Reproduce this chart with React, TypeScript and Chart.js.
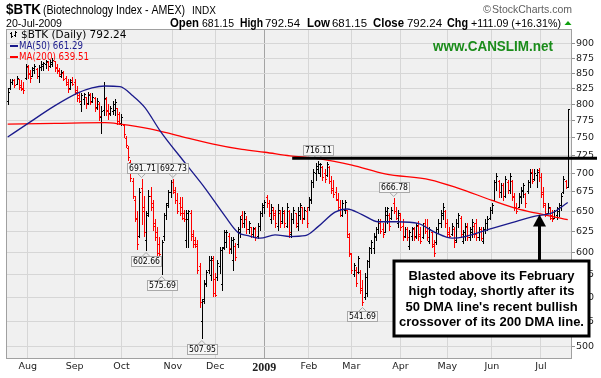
import React, { useEffect, useRef } from 'react';
import { Chart, registerables } from 'chart.js';
Chart.register(...registerables);

// ---------- DATA ----------
const monthTickIdx = [9, 30, 51, 74, 93, 115, 135, 154, 176, 197, 217, 239];
const monthTickLabels = ['Aug', 'Sep', 'Oct', 'Nov', 'Dec', '2009', 'Feb', 'Mar', 'Apr', 'May', 'Jun', 'Jul'];
const priceTicks = [500, 525, 550, 575, 600, 625, 650, 675, 700, 725, 750, 775, 800, 825, 850, 875, 900];

const opens = [
  805, 826, 835, 838, 832, 840, 830, 826, 842, 860, 850, 845, 855, 857, 845, 860, 862, 865, 868, 862,
  866, 870, 860, 855, 846, 850, 842, 836, 826, 838, 835, 822, 815, 800, 808, 812, 802, 816, 806, 810,
  796, 800, 780, 792, 808, 792, 786, 790, 792, 794, 785, 772, 768, 750, 735, 715, 690, 665, 640, 620,
  680, 655, 615, 648, 670, 660, 635, 625, 610, 590, 620, 645, 660, 675, 688, 675, 665, 660, 655, 648,
  615, 640, 648, 622, 615, 610, 585, 525, 548, 565, 580, 575, 592, 570, 572, 585, 565, 606, 612, 620,
  604, 592, 608, 610, 625, 645, 636, 640, 628, 630, 622, 628, 620, 632, 648, 655, 668, 660, 640, 652,
  648, 632, 648, 638, 648, 632, 650, 622, 640, 648, 632, 645, 655, 642, 650, 655, 665, 688, 700, 705,
  700, 708, 700, 698, 708, 690, 680, 675, 665, 655, 646, 652, 652, 618, 598, 576, 580, 578, 578, 560,
  550, 555, 590, 605, 605, 618, 628, 636, 628, 625, 645, 645, 642, 660, 650, 635, 645, 632, 620, 628,
  608, 620, 628, 620, 632, 622, 618, 635, 630, 614, 625, 608, 612, 628, 635, 645, 650, 635, 625, 622,
  628, 615, 636, 642, 614, 620, 630, 618, 625, 632, 635, 618, 628, 614, 628, 635, 642, 652, 665, 688,
  690, 675, 684, 670, 688, 678, 690, 668, 655, 656, 668, 676, 672, 676, 688, 702, 692, 698, 704, 695,
  672, 658, 648, 654, 645, 642, 645, 650, 656, 675, 690, 681.15
];
const highs = [
  826, 840, 841, 840, 845, 840, 838, 835, 866, 863, 856, 861, 866, 858, 864, 870, 868, 872, 870, 872,
  875, 870, 866, 858, 856, 853, 845, 840, 840, 843, 840, 829, 818, 818, 818, 812, 820, 818, 818, 812,
  810, 803, 798, 835, 812, 800, 798, 805, 808, 795, 788, 785, 770, 752, 738, 718, 693, 670, 650, 680,
  691.71, 670, 650, 678, 682, 665, 640, 631, 619, 615, 648, 661, 678, 691, 692.73, 682, 674, 669, 669, 652,
  652, 652, 652, 627, 619, 615, 588, 548, 569, 580, 596, 596, 596, 577, 592, 607, 607, 627, 627, 623,
  619, 618, 611, 631, 644, 650, 650, 644, 638, 631, 631, 631, 636, 650, 661, 665, 671, 665, 659, 656,
  652, 659, 652, 656, 652, 661, 652, 648, 656, 648, 656, 661, 656, 656, 656, 669, 691, 705, 714, 716.11,
  714, 710, 705, 715, 710, 696, 691, 682, 674, 665, 665, 664, 652, 623, 600, 588, 584, 596, 580, 569,
  577, 592, 607, 615, 623, 631, 640, 640, 636, 656, 656, 648, 656, 666.78, 656, 652, 648, 640, 631, 631,
  627, 631, 631, 636, 638, 631, 636, 640, 640, 631, 625, 615, 631, 640, 652, 661, 652, 640, 631, 636,
  631, 640, 648, 644, 627, 636, 636, 631, 640, 636, 640, 631, 631, 631, 640, 644, 656, 661, 691, 700,
  691, 687, 687, 696, 691, 700, 691, 674, 661, 674, 682, 687, 674, 691, 705, 705, 705, 705, 707, 700,
  682, 661, 661, 656, 652, 652, 656, 661, 674, 696, 691, 792.54
];
const lows = [
  800, 824, 832, 828, 832, 824, 822, 818, 840, 842, 836, 845, 850, 842, 835, 856, 856, 858, 856, 860,
  862, 854, 850, 845, 843, 838, 830, 819, 824, 830, 817, 806, 803, 790, 800, 795, 800, 800, 803, 790,
  793, 776, 757, 783, 783, 778, 783, 785, 783, 770, 770, 768, 751, 737, 718, 689, 667, 638, 604, 618,
  634, 620, 602.66, 644, 652, 627, 615, 596, 596, 575.69, 615, 640, 656, 669, 674, 661, 648, 645, 640, 638,
  607, 607, 615, 607, 607, 577, 540, 507.95, 544, 562, 577, 569, 551, 551, 569, 577, 558, 604, 607, 600,
  600, 580, 592, 607, 619, 631, 631, 623, 623, 619, 619, 615, 617, 627, 644, 648, 656, 644, 636, 640,
  631, 627, 631, 636, 631, 631, 619, 619, 636, 631, 627, 640, 636, 640, 631, 652, 661, 682, 691, 700,
  696, 691, 688, 696, 687, 674, 669, 664, 652, 644, 644, 648, 619, 596, 577, 573, 562, 577, 555, 541.69,
  548, 551, 584, 600, 600, 615, 623, 623, 619, 625, 636, 627, 640, 648, 640, 631, 627, 615, 619, 615,
  604, 615, 615, 617, 615, 611, 617, 623, 615, 611, 607, 596, 610, 623, 631, 640, 631, 619, 619, 621,
  607, 613, 631, 619, 611, 615, 615, 615, 619, 619, 615, 615, 615, 611, 623, 627, 640, 648, 665, 678,
  669, 669, 665, 669, 674, 674, 665, 652, 648, 656, 661, 669, 656, 674, 682, 687, 691, 682, 690, 669,
  656, 644, 648, 640, 638, 642, 640, 644, 652, 674, 680, 681.15
];
const closes = [
  820, 836, 838, 830, 842, 827, 824, 822, 862, 848, 842, 858, 862, 845, 860, 866, 867, 870, 862, 869,
  872, 858, 853, 848, 852, 840, 833, 824, 836, 832, 820, 810, 806, 814, 816, 800, 815, 804, 812, 795,
  805, 782, 790, 810, 790, 785, 795, 800, 803, 775, 772, 780, 755, 740, 722, 693, 670, 642, 610, 675,
  650, 625, 645, 670, 656, 632, 618, 600, 598, 612, 645, 658, 675, 688, 678, 665, 650, 648, 642, 640,
  648, 650, 620, 610, 608, 580, 545, 546, 566, 578, 592, 594, 555, 553, 588, 603, 605, 624, 625, 605,
  615, 616, 595, 628, 640, 635, 648, 628, 635, 622, 629, 618, 632, 648, 658, 662, 660, 648, 655, 645,
  635, 652, 636, 650, 635, 655, 625, 640, 652, 635, 650, 658, 640, 652, 635, 666, 688, 702, 710, 712,
  713, 695, 692, 712, 690, 678, 672, 666, 655, 646, 660, 662, 622, 600, 580, 586, 566, 594, 558, 545,
  572, 590, 605, 612, 620, 628, 638, 626, 622, 650, 654, 632, 652, 650, 642, 648, 630, 618, 628, 618,
  624, 629, 618, 633, 620, 614, 632, 626, 618, 628, 610, 600, 628, 636, 648, 656, 636, 622, 620, 632,
  612, 636, 645, 622, 625, 632, 618, 628, 637, 622, 618, 628, 617, 628, 636, 640, 652, 658, 688, 696,
  675, 684, 670, 692, 678, 696, 670, 656, 650, 670, 678, 684, 660, 688, 700, 690, 700, 702, 695, 675,
  660, 648, 656, 642, 640, 650, 654, 658, 670, 692, 681.15, 792.24
];

const ma50Idx = [0, 7.8, 21.2, 31.5, 37.8, 43.6, 50.3, 56.2, 61.5, 68.3, 79.5, 88.4, 97.4, 103.2, 107.7, 113.1, 119.8, 126.5, 133.3, 139.1, 146.7, 152.1, 158.8, 166, 174.9, 183.9, 191.5, 199.2, 205, 217.1, 226, 236.4, 244, 251];
const ma50Val = [751, 768, 798, 818, 826, 829, 828, 813, 795, 760, 714, 680, 644, 624, 620, 617, 621, 619, 620, 631, 649, 653, 646, 637, 637, 635, 624, 617, 619, 629, 636, 644, 648, 661.29];
const ma200Idx = [0, 21.2, 43.6, 50.3, 63.8, 76.3, 91.6, 105, 115.3, 126.5, 139.1, 154.3, 169.1, 189.3, 201.8, 217.1, 228.7, 236.4, 246.7, 251];
const ma200Val = [770, 771, 772, 770, 763, 753, 741, 733, 729, 724, 720, 711, 699, 691, 680, 664, 653, 648, 642, 639.51];

const labelIdx = [60, 62, 69, 74, 87, 139, 159, 173];
const labelKind = ['high', 'low', 'low', 'high', 'low', 'high', 'low', 'high'];

const resistanceLevel = 720.5;
const resistanceStartIdx = 127.5;
const arrowIdx = 238.2;
const arrowPrice = 646;

const noteLines = [
  'Blasted above its February',
  'high today, shortly after its',
  "50 DMA line's recent bullish",
  'crossover of its 200 DMA line.',
];

export default function App() {
  const ref = useRef<HTMLCanvasElement>(null);
  useEffect(() => {
    document.body.style.margin = '0';
    const canvas = ref.current!;

    const bgPlugin = {
      id: 'bg',
      beforeDraw(chart: any) {
        const { ctx, chartArea: a } = chart;
        ctx.save();
        ctx.fillStyle = '#ffffff';
        ctx.fillRect(0, 0, chart.width, chart.height);
        ctx.fillStyle = '#f0f0f0';
        ctx.fillRect(a.left, a.top, a.right - a.left, a.bottom - a.top);
        ctx.restore();
      },
    };

    const ohlcPlugin = {
      id: 'ohlc',
      beforeDatasetsDraw(chart: any) {
        const { ctx, chartArea: a } = chart;
        const xs = chart.scales.x, ys = chart.scales.y;
        ctx.save();
        ctx.beginPath();
        ctx.rect(a.left, a.top, a.right - a.left, a.bottom - a.top);
        ctx.clip();
        for (let i = 0; i < closes.length; i++) {
          const up = i === 0 ? true : closes[i] >= closes[i - 1];
          ctx.fillStyle = up ? '#000000' : '#ff0000';
          const x = Math.round(xs.getPixelForValue(i));
          const yh = Math.round(ys.getPixelForValue(highs[i]));
          const yl = Math.round(ys.getPixelForValue(lows[i]));
          ctx.fillRect(x, yh, 1, Math.max(1, yl - yh + 1));
          ctx.fillRect(x - 1, Math.round(ys.getPixelForValue(opens[i])), 1, 1);
          ctx.fillRect(x + 1, Math.round(ys.getPixelForValue(closes[i])), 1, 1);
        }
        ctx.restore();
      },
    };

    const overlayPlugin = {
      id: 'overlay',
      afterDraw(chart: any) {
        const { ctx, chartArea: a } = chart;
        const xs = chart.scales.x, ys = chart.scales.y;
        ctx.save();
        // plot border
        ctx.strokeStyle = '#a0a0a0';
        ctx.lineWidth = 1;
        ctx.strokeRect(a.left + 0.5, a.top + 0.5, a.right - a.left - 1, a.bottom - a.top);

        // value labels
        ctx.font = '8.5px "DejaVu Sans"';
        for (let k = 0; k < labelIdx.length; k++) {
          const i = labelIdx[k];
          const isHigh = labelKind[k] === 'high';
          const v = isHigh ? highs[i] : lows[i];
          const txt = v.toFixed(2);
          const x = xs.getPixelForValue(i);
          const yb = ys.getPixelForValue(v);
          const w = 30;
          const h = 10;
          const bx = Math.round(x - w / 2) + 0.5;
          const by = isHigh ? Math.round(yb - 6 - h) + 0.5 : Math.round(yb + 6) + 0.5;
          ctx.fillStyle = '#f6f6f6';
          ctx.fillRect(bx, by, w, h);
          ctx.strokeStyle = '#a8a8a8';
          ctx.lineWidth = 1;
          ctx.strokeRect(bx, by, w, h);
          ctx.beginPath();
          if (isHigh) {
            ctx.moveTo(x - 4, by + h);
            ctx.lineTo(x, by + h + 4);
            ctx.lineTo(x + 4, by + h);
          } else {
            ctx.moveTo(x - 4, by);
            ctx.lineTo(x, by - 4);
            ctx.lineTo(x + 4, by);
          }
          ctx.stroke();
          ctx.fillStyle = '#000';
          ctx.textAlign = 'center';
          ctx.textBaseline = 'middle';
          ctx.fillText(txt, bx + w / 2, by + h / 2 + 0.5, w - 3);
        }

        // resistance line
        const ry = ys.getPixelForValue(resistanceLevel);
        ctx.strokeStyle = '#000';
        ctx.lineWidth = 3;
        ctx.beginPath();
        ctx.moveTo(xs.getPixelForValue(resistanceStartIdx), ry);
        ctx.lineTo(597, ry);
        ctx.stroke();

        // annotation box
        ctx.fillStyle = '#ffffff';
        ctx.fillRect(394, 261, 195, 75);
        ctx.lineWidth = 3;
        ctx.strokeRect(394, 261, 195, 75);
        ctx.fillStyle = '#000';
        ctx.font = 'bold 13px "Liberation Sans", Arial';
        ctx.textAlign = 'center';
        ctx.textBaseline = 'middle';
        const lineY = [276, 291, 307, 322.5];
        noteLines.forEach((t, j) => ctx.fillText(t, 491.5, lineY[j], 186));

        // arrow
        const ax = Math.round(xs.getPixelForValue(arrowIdx)) + 0.5;
        const ay = ys.getPixelForValue(arrowPrice);
        ctx.fillRect(ax - 1.5, ay + 10, 3, 260 - (ay + 10));
        ctx.beginPath();
        ctx.moveTo(ax, ay);
        ctx.lineTo(ax - 6.5, ay + 12);
        ctx.lineTo(ax + 6.5, ay + 12);
        ctx.closePath();
        ctx.fill();

        // legend inside plot
        ctx.textAlign = 'left';
        ctx.textBaseline = 'middle';
        ctx.fillStyle = '#000';
        ctx.fillRect(11, 32, 1, 6);
        ctx.fillRect(10, 33, 1, 1);
        ctx.fillRect(12, 36, 1, 1);
        ctx.fillRect(15, 31, 1, 6);
        ctx.fillRect(14, 35, 1, 1);
        ctx.fillRect(16, 32, 1, 1);
        ctx.font = '10.5px "DejaVu Sans"';
        ctx.fillText('$BTK (Daily) 792.24', 21, 35.5, 111);
        ctx.fillStyle = '#1a1a8c';
        ctx.fillRect(10, 45, 8, 2);
        ctx.font = '10px "DejaVu Sans"';
        ctx.fillText('MA(50) 661.29', 19, 46.5, 64);
        ctx.fillStyle = '#ff0000';
        ctx.fillRect(10, 56, 8, 2);
        ctx.fillText('MA(200) 639.51', 19, 57.5, 70);

        // CANSLIM watermark
        ctx.fillStyle = '#1a8c1a';
        ctx.font = 'bold 14px "Liberation Sans", Arial';
        ctx.fillText('www.CANSLIM.net', 433, 47, 120);

        // header
        ctx.textBaseline = 'alphabetic';
        ctx.fillStyle = '#000';
        ctx.font = 'bold 14px "Liberation Sans", Arial';
        ctx.fillText('$BTK', 6, 14, 35);
        ctx.font = '12px "Liberation Sans", Arial';
        ctx.fillText('(Biotechnology Index - AMEX)', 43, 13.5, 142);
        ctx.font = '10px "Liberation Sans", Arial';
        ctx.fillText('INDX', 192, 13.5, 24);
        ctx.font = '11px "Liberation Sans", Arial';
        ctx.fillText('20-Jul-2009', 6, 26.5, 56);

        const parts: [string, number, number, boolean][] = [
          ['Open', 170, 29, true], ['681.15', 202, 32, false],
          ['High', 240, 23, true], ['792.54', 265, 35, false],
          ['Low', 307, 23, true], ['681.15', 332, 35, false],
          ['Close', 373, 31, true], ['792.24', 407, 35, false],
          ['Chg', 447, 21, true], ['+111.09 (+16.31%)', 471, 90, false],
        ];
        parts.forEach(([t, x, w, b]) => {
          ctx.font = b ? 'bold 12px "Liberation Sans", Arial' : '11.5px "Liberation Sans", Arial';
          ctx.fillText(t, x, 26.5, w);
        });
        ctx.fillStyle = '#10a010';
        ctx.beginPath();
        ctx.moveTo(564.5, 25);
        ctx.lineTo(571.5, 25);
        ctx.lineTo(568, 21);
        ctx.closePath();
        ctx.fill();

        ctx.fillStyle = '#606060';
        ctx.font = '11px "Liberation Sans", Arial';
        ctx.fillText('\u00A9', 483, 13, 8);
        ctx.fillText('StockCharts.com', 492, 13, 80);
        ctx.restore();
      },
    };

    const chart = new Chart(canvas, {
      type: 'line',
      data: {
        datasets: [
          {
            label: 'MA(50)',
            data: ma50Idx.map((x, i) => ({ x, y: ma50Val[i] })),
            borderColor: '#1a1a8c',
            borderWidth: 1.3,
            pointRadius: 0,
            cubicInterpolationMode: 'monotone',
          },
          {
            label: 'MA(200)',
            data: ma200Idx.map((x, i) => ({ x, y: ma200Val[i] })),
            borderColor: '#ff0000',
            borderWidth: 1.3,
            pointRadius: 0,
            cubicInterpolationMode: 'monotone',
          },
        ],
      },
      options: {
        responsive: false,
        animation: false,
        devicePixelRatio: 1,
        layout: { padding: { left: 6, top: 29, right: 0, bottom: 0 } },
        plugins: { legend: { display: false }, tooltip: { enabled: false } },
        scales: {
          x: {
            type: 'linear',
            min: -0.76,
            max: 252.9,
            position: 'bottom',
            afterBuildTicks: (s: any) => { s.ticks = monthTickIdx.map((v) => ({ value: v })); },
            afterFit: (s: any) => { s.height = 20; },
            grid: {
              color: (c: any) => (c.tick && c.tick.value === 115 ? '#a4a4a4' : '#d6d6d6'),
              drawTicks: false,
            },
            border: { display: false },
            ticks: {
              autoSkip: false,
              maxRotation: 0,
              padding: 3,
              color: '#222',
              font: (c: any) => (c.tick && c.tick.value === 115
                ? { family: '"Liberation Serif"', size: 12, weight: 'bold' }
                : { family: '"DejaVu Sans"', size: 9.5 }),
              callback: (v: any) => {
                const k = monthTickIdx.indexOf(Number(v));
                return k >= 0 ? monthTickLabels[k] : '';
              },
            },
          },
          y: {
            type: 'logarithmic',
            position: 'right',
            min: 489,
            max: 926,
            afterBuildTicks: (s: any) => { s.ticks = priceTicks.map((v) => ({ value: v })); },
            afterFit: (s: any) => { s.width = 29; },
            grid: { color: '#d6d6d6', drawTicks: true, tickLength: 3, tickColor: '#909090' },
            border: { display: false },
            ticks: {
              autoSkip: false,
              padding: 1,
              color: '#222',
              font: { family: '"DejaVu Sans"', size: 9.5 },
              callback: (v: any) => String(v),
            },
          },
        },
      },
      plugins: [bgPlugin, ohlcPlugin, overlayPlugin],
    } as any);
    return () => chart.destroy();
  }, []);
  return (
    <div style={{ width: 601, height: 378, background: '#fff' }}>
      <canvas ref={ref} width={601} height={378} style={{ display: 'block', width: 601, height: 378 }} />
    </div>
  );
}
